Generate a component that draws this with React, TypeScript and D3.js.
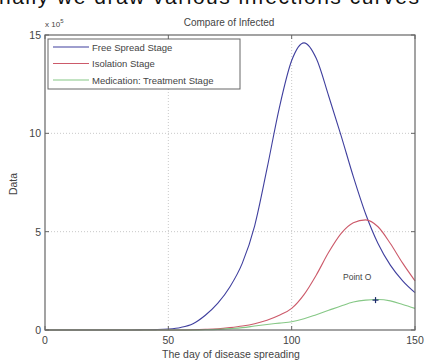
import React from "react";
import * as d3 from "d3";

const days = [0,5,10,15,20,25,30,35,40,45,50,55,60,65,70,75,80,85,90,95,100,105,110,115,120,125,130,135,140,145,150];
const freeSpread = [0,0,0,0,0,0,0,0,0.01,0.02,0.05,0.13,0.32,0.75,1.35,2.2,3.4,5.3,8.2,11.3,13.7,14.6,13.8,11.9,9.9,7.8,5.9,4.4,3.3,2.5,1.9];
const isolation = [0,0,0,0,0,0,0,0,0,0,0,0,0.01,0.03,0.06,0.12,0.2,0.32,0.5,0.75,1.1,1.8,2.8,3.95,4.9,5.45,5.6,5.25,4.4,3.4,2.5];
const medication = [0,0,0,0,0,0,0,0,0,0,0,0,0,0.01,0.03,0.07,0.12,0.2,0.28,0.35,0.42,0.57,0.78,1.0,1.22,1.42,1.52,1.55,1.48,1.3,1.1];
const seriesNames = ["Free Spread Stage", "Isolation Stage", "Medication: Treatment Stage"];
const seriesColors = ["#3f3f9e", "#cc5a6a", "#86c886"];
const xTicks = [0, 50, 100, 150];
const yTicks = [0, 5, 10, 15];
const pointO = { day: 134, value: 1.52, label: "Point O" };

const W = 425, H = 361;
const L = 45, R = 415, T = 35, B = 330;
const font = "'Liberation Sans', Arial, sans-serif";

export default function App() {
  const x = d3.scaleLinear().domain([0, 150]).range([L, R]);
  const y = d3.scaleLinear().domain([0, 15]).range([B, T]);
  const line = d3.line<number>().x((_, i) => x(days[i])).y((d) => y(d)).curve(d3.curveMonotoneX);
  const all = [freeSpread, isolation, medication];
  const tick = 4;
  return (
    <svg width={W} height={H} style={{ position: "absolute", left: 0, top: 0, background: "#fff" }} fontFamily={font}>
      <rect x={0} y={0} width={W} height={H} fill="#fff" />
      <text x={-1} y={4} fontSize={21} fill="#111" textLength={420} lengthAdjust="spacing">nally we draw various infections curves</text>
      {/* grid */}
      {xTicks.filter(t => t > 0 && t < 150).map(t => (
        <line key={"gx" + t} x1={x(t)} x2={x(t)} y1={T} y2={B} stroke="#bbb" strokeWidth={0.8} strokeDasharray="1,2" />
      ))}
      {yTicks.filter(t => t > 0 && t < 15).map(t => (
        <line key={"gy" + t} x1={L} x2={R} y1={y(t)} y2={y(t)} stroke="#bbb" strokeWidth={0.8} strokeDasharray="1,2" />
      ))}
      {/* curves */}
      {all.map((s, i) => (
        <path key={i} d={line(s) || ""} fill="none" stroke={seriesColors[i]} strokeWidth={1.1} />
      ))}
      {/* point O */}
      <g stroke="#1a2a6a" strokeWidth={1.2}>
        <line x1={x(pointO.day) - 3} x2={x(pointO.day) + 3} y1={y(pointO.value)} y2={y(pointO.value)} />
        <line x1={x(pointO.day)} x2={x(pointO.day)} y1={y(pointO.value) - 3} y2={y(pointO.value) + 3} />
      </g>
      <text x={343} y={280} fontSize={8.5} fill="#444">{pointO.label}</text>
      {/* axes box */}
      <rect x={L} y={T} width={R - L} height={B - T} fill="none" stroke="#666" strokeWidth={1.2} />
      {xTicks.map(t => (
        <g key={"tx" + t}>
          <line x1={x(t)} x2={x(t)} y1={B} y2={B - tick} stroke="#666" />
          <line x1={x(t)} x2={x(t)} y1={T} y2={T + tick} stroke="#666" />
          <text x={x(t)} y={344} fontSize={10.5} fill="#444" textAnchor="middle">{t}</text>
        </g>
      ))}
      {yTicks.map(t => (
        <g key={"ty" + t}>
          <line x1={L} x2={L + tick} y1={y(t)} y2={y(t)} stroke="#666" />
          <line x1={R} x2={R - tick} y1={y(t)} y2={y(t)} stroke="#666" />
          <text x={41} y={y(t) + 4} fontSize={10.5} fill="#444" textAnchor="end">{t}</text>
        </g>
      ))}
      <text x={45} y={27} fontSize={8} fill="#444">x 10<tspan dy={-4} fontSize={6}>5</tspan></text>
      <text x={229} y={26} fontSize={10} fill="#444" textAnchor="middle">Compare of Infected</text>
      <text x={231} y={358} fontSize={10.5} fill="#444" textAnchor="middle">The day of disease spreading</text>
      <text transform="translate(17,184) rotate(-90)" fontSize={10.5} fill="#444" textAnchor="middle">Data</text>
      {/* legend */}
      <rect x={48} y={39} width={192} height={50} fill="#fff" stroke="#666" strokeWidth={1} />
      {seriesNames.map((n, i) => {
        const yy = 47 + i * 16.5;
        return (
          <g key={n}>
            <line x1={53} x2={89} y1={yy} y2={yy} stroke={seriesColors[i]} strokeWidth={1.1} />
            <text x={92} y={yy + 3.5} fontSize={9.5} fill="#444">{n}</text>
          </g>
        );
      })}
    </svg>
  );
}
